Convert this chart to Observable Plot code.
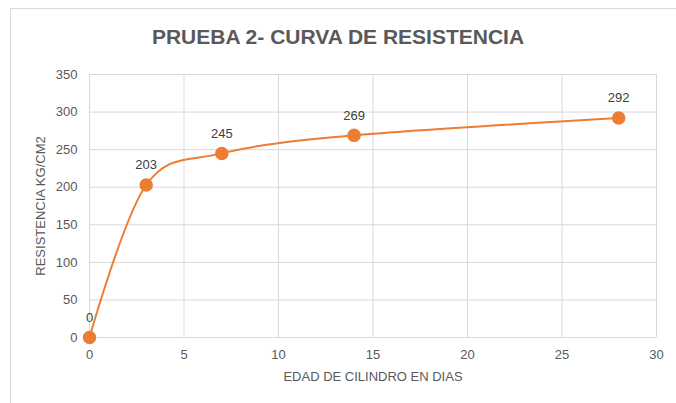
<!DOCTYPE html>
<html><head><meta charset="utf-8">
<script src="https://cdn.jsdelivr.net/npm/d3@7"></script>
<script src="https://cdn.jsdelivr.net/npm/@observablehq/plot@0.6"></script>
<style>
body{margin:0;background:#fff;}
#wrap{position:relative;width:676px;height:403px;overflow:hidden;font-family:"Liberation Sans",sans-serif;}
#frame{position:absolute;left:10px;top:8px;width:700px;height:420px;border:1px solid #d9d9d9;}
#title{position:absolute;left:0;width:676px;top:25px;text-align:center;font-size:21px;font-weight:bold;color:#595959;}
#chart{position:absolute;left:0;top:0;}
</style></head>
<body><div id="wrap"><div id="frame"></div><div id="title">PRUEBA 2- CURVA DE RESISTENCIA</div><div id="chart"></div></div>
<script>
const dias = [0, 3, 7, 14, 28];
const resistencia = [0, 203, 245, 269, 292];
const xTicks = [0, 5, 10, 15, 20, 25, 30];
const yTicks = [0, 50, 100, 150, 200, 250, 300, 350];
const data = dias.map((d, i) => ({x: d, y: resistencia[i]}));
const orange = "#ED7D31";
const chart = Plot.plot({
  width: 676, height: 403,
  marginLeft: 89, marginRight: 20, marginTop: 74, marginBottom: 66,
  style: {fontFamily: '"Liberation Sans",sans-serif', fontSize: "13px", color: "#595959", background: "transparent"},
  x: {domain: [0, 30], ticks: xTicks, tickSize: 0, tickPadding: 12, label: null},
  y: {domain: [0, 350], ticks: yTicks, tickSize: 0, tickPadding: 12, label: null},
  marks: [
    Plot.gridX(xTicks, {stroke: "#d9d9d9", strokeOpacity: 1}),
    Plot.gridY(yTicks, {stroke: "#d9d9d9", strokeOpacity: 1}),
    Plot.axisX({ticks: xTicks, tickSize: 0, tickPadding: 12, fill: "#595959", fontSize: 13}),
    Plot.axisY({ticks: yTicks, tickSize: 0, tickPadding: 12, fill: "#595959", fontSize: 13}),
    Plot.line(data, {x: "x", y: "y", stroke: orange, strokeWidth: 2, curve: "cardinal", tension: 0}),
    Plot.dot(data, {x: "x", y: "y", r: 6, fill: orange, stroke: orange}),
    Plot.text(data, {x: "x", y: "y", text: d => String(d.y), dy: -20, fill: "#404040", fontSize: 13}),
    Plot.text(["EDAD DE CILINDRO EN DIAS"], {frameAnchor: "bottom", dy: 43, fill: "#595959", fontSize: 13}),
    Plot.text(["RESISTENCIA KG/CM2"], {frameAnchor: "left", textAnchor: "middle", dx: -49, rotate: -90, fill: "#595959", fontSize: 13})
  ]
});
document.getElementById("chart").appendChild(chart);
</script></body></html>
